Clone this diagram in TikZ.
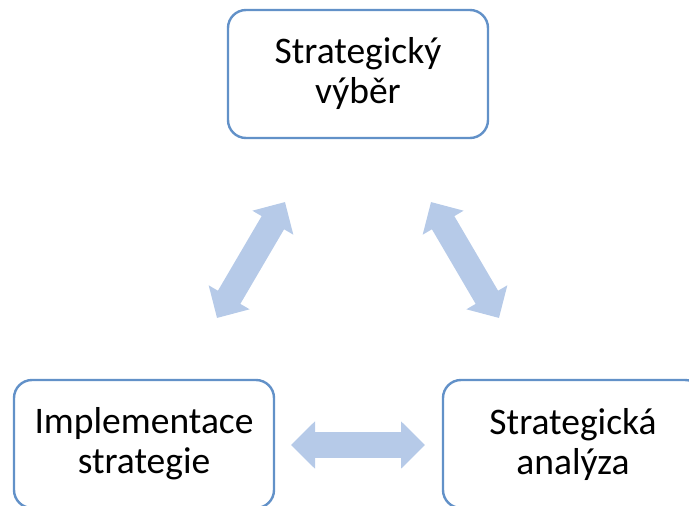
\documentclass[tikz,border=0pt]{standalone}
\usepackage{fontspec}
\setmainfont{Carlito}
\usetikzlibrary{arrows.meta}
\definecolor{boxline}{RGB}{98,145,200}
\definecolor{arrowfill}{RGB}{182,202,232}
\tikzset{
  stagebox/.style={draw=boxline, line width=2.4pt, rounded corners=18pt,
    minimum width=260pt, minimum height=128pt, align=center,
    font=\fontsize{37.5}{40}\selectfont, inner sep=0pt},
  blockarrow/.style={draw=arrowfill, line width=26pt,
    {Triangle[width=46pt,length=24pt]}-{Triangle[width=46pt,length=24pt]}}
}
\begin{document}
\begin{tikzpicture}[x=1pt,y=-1pt]
\useasboundingbox (0,0) rectangle (689,506);
\clip (0,0) rectangle (689,506);
\node[stagebox] (vyber) at (358,74) {Strategický\\výběr};
\node[stagebox] (impl) at (144,444) {Implementace\\strategie};
\node[stagebox] (anal) at (573,444) {Strategická\\analýza};
\coordinate (l1) at (217,318);
\coordinate (l2) at (285,202);
\coordinate (r1) at (499,318);
\coordinate (r2) at (431,202);
\coordinate (h1) at (291,445);
\coordinate (h2) at (425,445);
\draw[blockarrow] (l1) -- (l2);
\draw[blockarrow] (r1) -- (r2);
\draw[blockarrow] (h1) -- (h2);
\end{tikzpicture}
\end{document}
